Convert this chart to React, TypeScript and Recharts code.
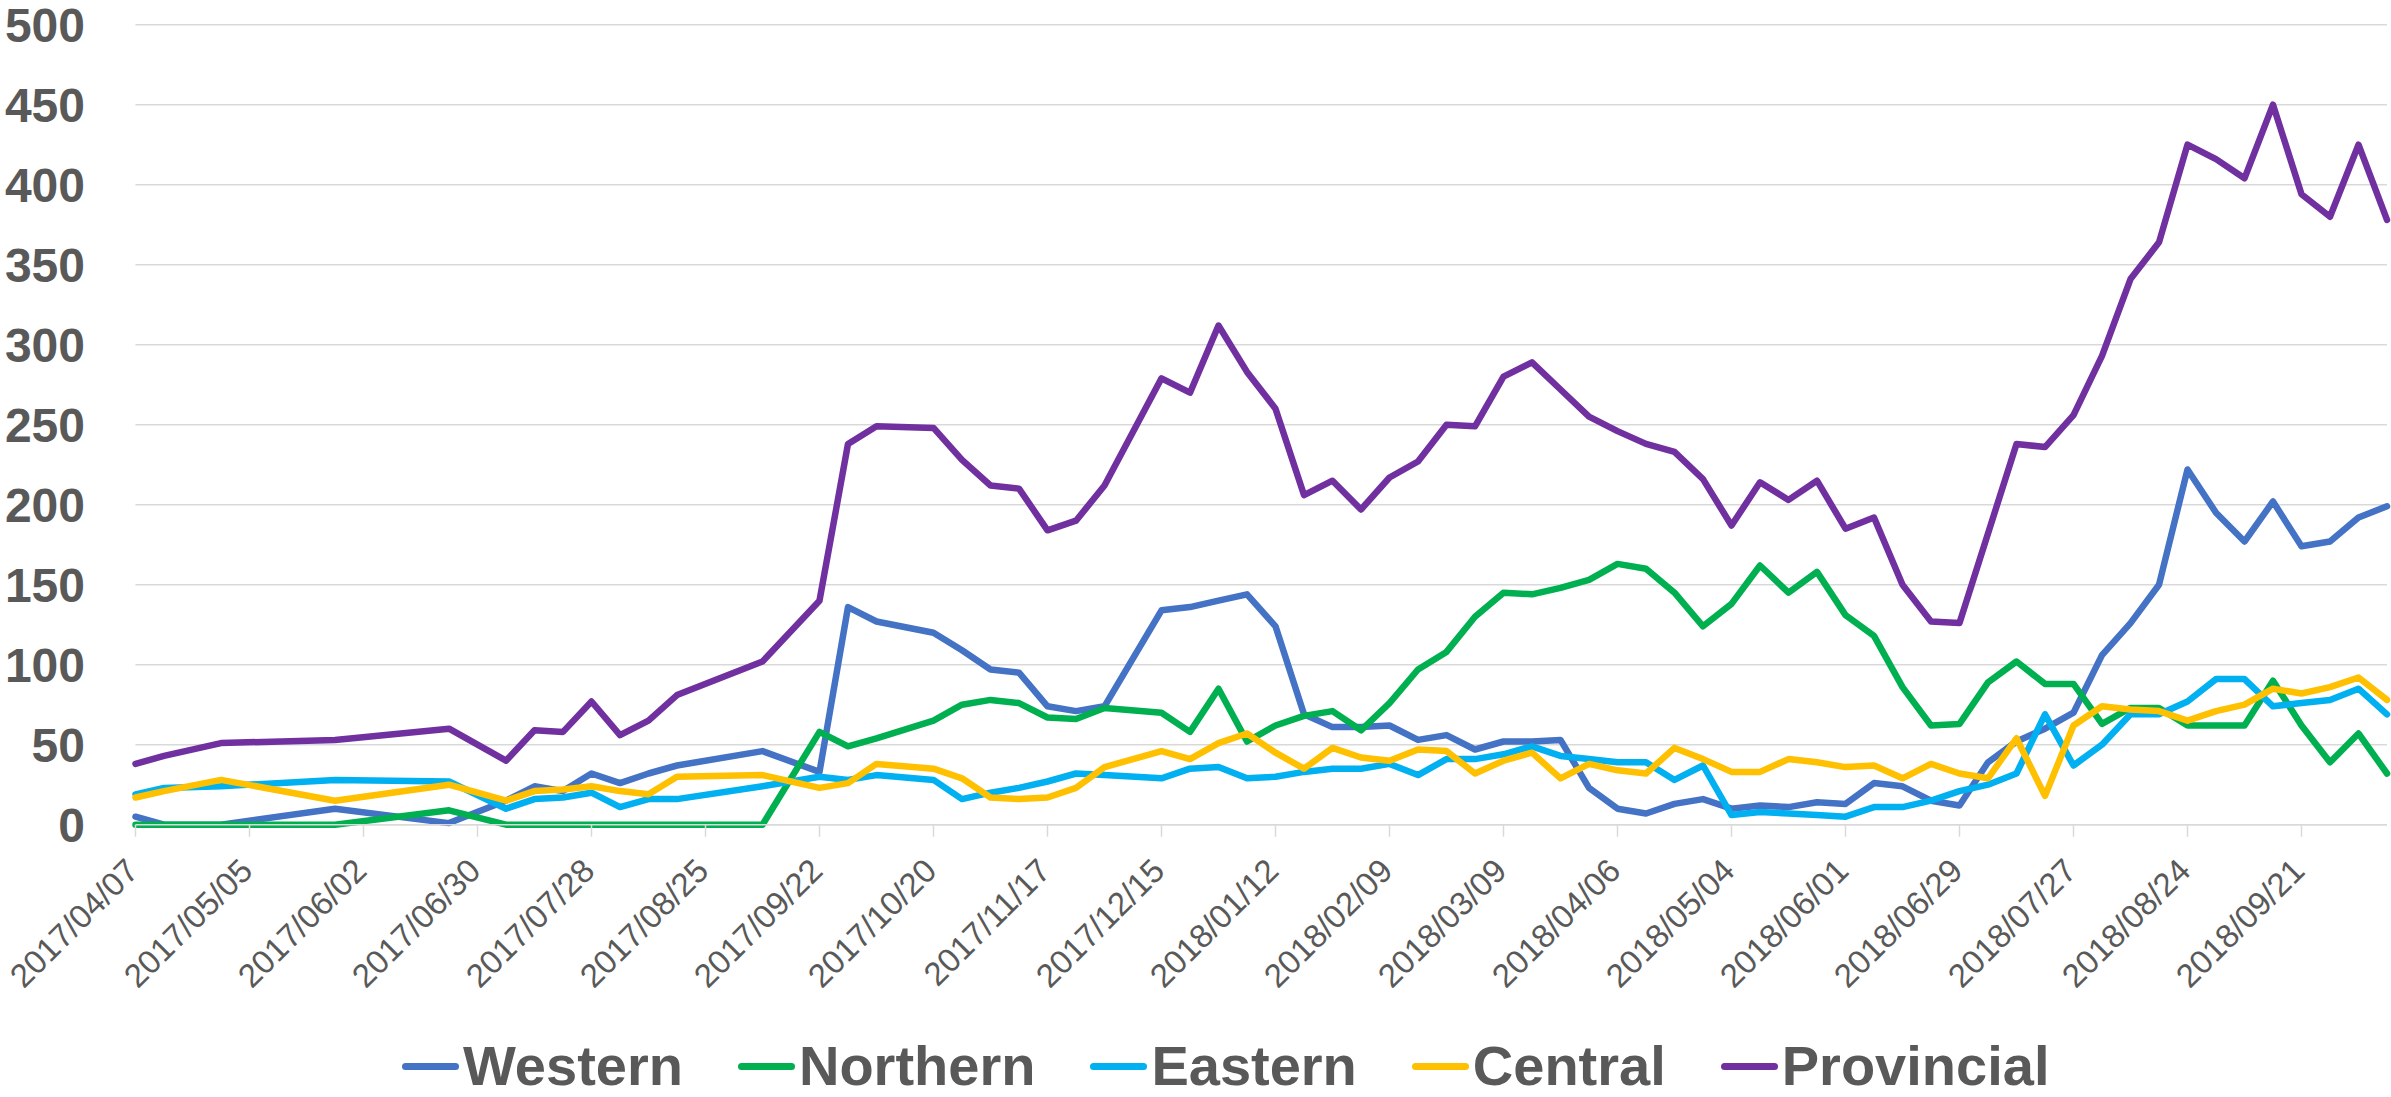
import { CartesianGrid, Legend, Line, LineChart, XAxis, YAxis } from "recharts";

const dates = [
  "2017/04/07", "2017/04/14", "2017/04/28", "2017/05/26", "2017/06/23", "2017/07/07", "2017/07/14",
  "2017/07/21", "2017/07/28", "2017/08/04", "2017/08/11", "2017/08/18", "2017/09/08", "2017/09/22",
  "2017/09/29", "2017/10/06", "2017/10/20", "2017/10/27", "2017/11/03", "2017/11/10", "2017/11/17",
  "2017/11/24", "2017/12/01", "2017/12/15", "2017/12/22", "2017/12/29", "2018/01/05", "2018/01/12",
  "2018/01/19", "2018/01/26", "2018/02/02", "2018/02/09", "2018/02/16", "2018/02/23", "2018/03/02",
  "2018/03/09", "2018/03/16", "2018/03/23", "2018/03/30", "2018/04/06", "2018/04/13", "2018/04/20",
  "2018/04/27", "2018/05/04", "2018/05/11", "2018/05/18", "2018/05/25", "2018/06/01", "2018/06/08",
  "2018/06/15", "2018/06/22", "2018/06/29", "2018/07/06", "2018/07/13", "2018/07/20", "2018/07/27",
  "2018/08/03", "2018/08/10", "2018/08/17", "2018/08/24", "2018/08/31", "2018/09/07", "2018/09/14",
  "2018/09/21", "2018/09/28", "2018/10/05", "2018/10/12",
];

const western = [
  5, 0, 0, 10, 1, 15, 24, 21, 32, 26, 32, 37, 46, 33, 136, 127, 120, 109, 97, 95, 74, 71, 74,
  134, 136, 140, 144, 124, 69, 61, 61, 62, 53, 56, 47, 52, 52, 53, 23, 10, 7, 13, 16, 10, 12, 11, 14,
  13, 26, 24, 15, 12, 39, 52, 60, 70, 106, 126, 150, 222, 195, 177, 202, 174, 177, 192, 199,
];
const northern = [
  0, 0, 0, 0, 9, 0, 0, 0, 0, 0, 0, 0, 0, 58, 49, 54, 65, 75, 78, 76, 67, 66, 73,
  70, 58, 85, 52, 62, 68, 71, 59, 76, 97, 108, 130, 145, 144, 148, 153, 163, 160, 145, 124, 138, 162, 145, 158,
  131, 118, 86, 62, 63, 89, 102, 88, 88, 63, 73, 73, 62, 62, 62, 90, 62, 39, 57, 32,
];
const eastern = [
  19, 23, 24, 28, 27, 10, 16, 17, 20, 11, 16, 16, 24, 30, 28, 31, 28, 16, 20, 23, 27, 32, 31,
  29, 35, 36, 29, 30, 33, 35, 35, 38, 31, 41, 41, 44, 49, 43, 41, 39, 39, 28, 37, 6, 8, 7, 6,
  5, 11, 11, 15, 21, 25, 32, 69, 37, 50, 69, 69, 77, 91, 91, 74, 76, 78, 85, 69,
];
const central = [
  17, 21, 28, 15, 25, 15, 21, 22, 24, 21, 19, 30, 31, 23, 26, 38, 35, 29, 17, 16, 17, 23, 36,
  46, 41, 51, 57, 45, 35, 48, 42, 40, 47, 46, 32, 40, 45, 29, 38, 34, 32, 48, 41, 33, 33, 41, 39,
  36, 37, 29, 38, 32, 29, 54, 18, 62, 74, 72, 71, 65, 71, 75, 85, 82, 86, 92, 78,
];
const provincial = [
  38, 43, 51, 53, 60, 40, 59, 58, 77, 56, 65, 81, 102, 140, 238, 249, 248, 228, 212, 210, 184, 190, 212,
  279, 270, 312, 283, 260, 206, 215, 197, 217, 227, 250, 249, 280, 289, 272, 255, 246, 238, 233, 216, 187, 214, 203, 215,
  185, 192, 150, 127, 126, 182, 238, 236, 256, 293, 341, 364, 425, 416, 404, 450, 394, 380, 425, 378,
];

const xTickLabels = [
  "2017/04/07", "2017/05/05", "2017/06/02", "2017/06/30", "2017/07/28", "2017/08/25", "2017/09/22",
  "2017/10/20", "2017/11/17", "2017/12/15", "2018/01/12", "2018/02/09", "2018/03/09", "2018/04/06",
  "2018/05/04", "2018/06/01", "2018/06/29", "2018/07/27", "2018/08/24", "2018/09/21",
];
const yTicks = [0, 50, 100, 150, 200, 250, 300, 350, 400, 450, 500];

const series = [
  { key: "Western", values: western, color: "#4472C4" },
  { key: "Northern", values: northern, color: "#00B050" },
  { key: "Eastern", values: eastern, color: "#00B0F0" },
  { key: "Central", values: central, color: "#FFC000" },
  { key: "Provincial", values: provincial, color: "#7030A0" },
];

const FONT = '"Liberation Sans", Arial, sans-serif';
const TEXT = "#595959";

// days since the first date, so the x axis behaves like Excel's date axis
const toDay = (s: string) => {
  const [y, m, d] = s.split("/").map(Number);
  return Math.round((Date.UTC(y, m - 1, d) - Date.UTC(2017, 3, 7)) / 86400000);
};

const data = dates.map((date, i) => {
  const row: Record<string, number | string> = { date, day: toDay(date) };
  series.forEach((s) => (row[s.key] = s.values[i]));
  return row;
});

const xTicks = xTickLabels.map(toDay);
const labelByDay: Record<number, string> = {};
xTickLabels.forEach((l) => (labelByDay[toDay(l)] = l));

const XTick = ({ x, y, payload }: any) => {
  const px = x + 5;
  const py = y + 34;
  return (
    <text x={px} y={py} textAnchor="end" transform={`rotate(-45, ${px}, ${py})`}
      fontFamily={FONT} fontSize={33} fill={TEXT}>
      {labelByDay[payload.value]}
    </text>
  );
};

const YTick = ({ y, payload }: any) => (
  <text x={85} y={y} dy="0.36em" textAnchor="end" fontFamily={FONT} fontSize={48} fontWeight="bold" fill={TEXT}>
    {payload.value}
  </text>
);

const LegendContent = () => (
  <div style={{ display: "flex", alignItems: "center", height: 56, fontFamily: FONT }}>
    {series.map((s) => (
      <div key={s.key} style={{ display: "flex", alignItems: "center", marginRight: 55 }}>
        <span style={{ display: "inline-block", width: 57, height: 7, borderRadius: 4, background: s.color, marginRight: 4 }} />
        <span style={{ fontSize: 56, lineHeight: "56px", fontWeight: "bold", color: TEXT }}>{s.key}</span>
      </div>
    ))}
  </div>
);

export default function App() {
  return (
    <div style={{ position: "absolute", left: 0, top: 0, width: 2391, height: 1097, overflow: "hidden", background: "#fff" }}>
      <LineChart width={2391} height={1097} data={data} margin={{ top: 24.7, right: 4, bottom: 72.3, left: 0 }}>
        <CartesianGrid vertical={false} stroke="#D9D9D9" strokeWidth={1.5} />
        <XAxis
          dataKey="day"
          type="number"
          domain={[0, 553]}
          ticks={xTicks}
          interval={0}
          height={200}
          tick={<XTick />}
          tickSize={12}
          axisLine={{ stroke: "#D9D9D9", strokeWidth: 1.5 }}
          tickLine={{ stroke: "#D9D9D9", strokeWidth: 1.5 }}
        />
        <YAxis
          type="number"
          domain={[0, 500]}
          ticks={yTicks}
          interval={0}
          width={135.5}
          axisLine={false}
          tickLine={false}
          tick={<YTick />}
        />
        {series.map((s) => (
          <Line
            key={s.key}
            type="linear"
            dataKey={s.key}
            stroke={s.color}
            strokeWidth={6.5}
            strokeLinejoin="round"
            strokeLinecap="round"
            dot={false}
            activeDot={false}
            isAnimationActive={false}
          />
        ))}
        <Legend
          verticalAlign="middle"
          align="center"
          layout="horizontal"
          content={<LegendContent />}
          wrapperStyle={{ left: 402, top: 1038, width: 1800, height: 56 }}
        />
      </LineChart>
    </div>
  );
}
